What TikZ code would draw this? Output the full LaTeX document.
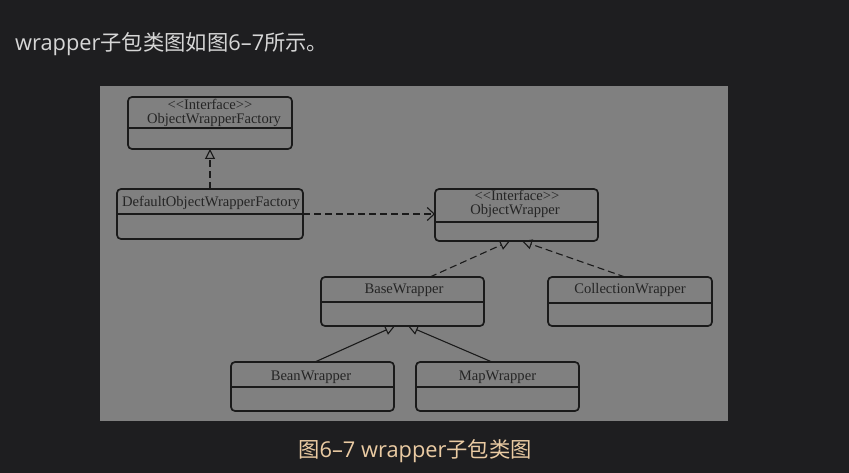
\documentclass[tikz,border=0pt]{standalone}
\usepackage{fontspec}
\setmainfont{Liberation Serif}
\newfontfamily\cjk{Noto Sans CJK SC}
\newfontfamily\latn{Open Sans}
\usetikzlibrary{arrows.meta}
\definecolor{bg}{HTML}{1E1E20}
\definecolor{panel}{HTML}{808080}
\definecolor{ink}{HTML}{1A1A1A}
\definecolor{txt}{HTML}{252525}
\definecolor{toptxt}{HTML}{D6D6D6}
\definecolor{captxt}{HTML}{EACBA3}
\tikzset{
  cls/.style={draw=ink, line width=1.7pt, rounded corners=4pt, inner sep=0pt, outer sep=0pt},
  sepline/.style={draw=ink, line width=1.7pt},
  lbl/.style={text=txt, font=\fontsize{14.6}{15}\selectfont, inner sep=0pt, anchor=base},
  real/.style={draw=ink, line width=1.1pt, dash pattern=on 7pt off 4pt, -{Triangle[open, length=10pt, width=10pt]}},
  gen/.style={draw=ink, line width=1.1pt, -{Triangle[open, length=10pt, width=10pt]}},
  dep/.style={draw=ink, line width=1.1pt, dash pattern=on 7pt off 4pt, -{Straight Barb[length=7pt, width=13pt]}},
  prose/.style={inner sep=0pt, font=\cjk\fontsize{21.3}{24}\selectfont},
}
\newcommand\lt[1]{{\latn\fontsize{21.8}{24}\selectfont #1}}
\newcommand\stereo{<\kern0pt<Interface>\kern0pt>}
\newcommand\umlbox[6]{%
  \node[cls, minimum width={(#4-#2)*1pt}, minimum height={(#5-#3)*1pt}] (#1) at ({(#2+#4)/2},{(#3+#5)/2}) {};
  \draw[sepline] (#1.west |- 0,#6) -- (#1.east |- 0,#6);
}
\begin{document}
\begin{tikzpicture}[x=1pt, y=-1pt]
  \useasboundingbox (0,0) rectangle (849,473);
  \fill[bg] (0,0) rectangle (849,473);
  \fill[panel] (100,86) rectangle (728,421);

  \node[prose, anchor=base west, text=toptxt] (intro) at (15,51) {\lt{wrapper}子包类图如图\lt{6–7}所示。};
  \node[prose, anchor=base, text=captxt] (caption) at (415,457) {图\lt{6–7 wrapper}子包类图};

  \umlbox{owf}{128}{97}{292}{149}{128}
  \umlbox{dowf}{117}{189}{303}{239}{214}
  \umlbox{ow}{435}{189}{598}{241}{222}
  \umlbox{bw}{321}{277}{484}{326}{302}
  \umlbox{cw}{548}{277}{712}{326}{303}
  \umlbox{bean}{231}{362}{394}{411}{387}
  \umlbox{map}{416}{362}{579}{411}{387}

  \node[lbl] (owfs) at (210,110) {\stereo};
  \node[lbl] (owfn) at (214,123.5) {ObjectWrapperFactory};
  \node[lbl] (dowfn) at (211,206.5) {DefaultObjectWrapperFactory};
  \node[lbl] (ows) at (517,200.5) {\stereo};
  \node[lbl] (own) at (515,215) {ObjectWrapper};
  \node[lbl] (bwn) at (404,294) {BaseWrapper};
  \node[lbl] (cwn) at (630,293) {CollectionWrapper};
  \node[lbl] (beann) at (311,380) {BeanWrapper};
  \node[lbl] (mapn) at (497.5,380) {MapWrapper};

  \draw[real] (dowf.north) -- (owf.south);
  \draw[dep] (dowf.east) -- (dowf.east -| ow.west);
  \draw[real] (bw.north -| 430,0) -- (ow.south -| 510,0);
  \draw[real] (cw.north -| 625,0) -- (ow.south -| 522,0);
  \draw[gen] (bean.north -| 315,0) -- (bw.south -| 395,0);
  \draw[gen] (map.north -| 492,0) -- (bw.south -| 408,0);
\end{tikzpicture}
\end{document}
